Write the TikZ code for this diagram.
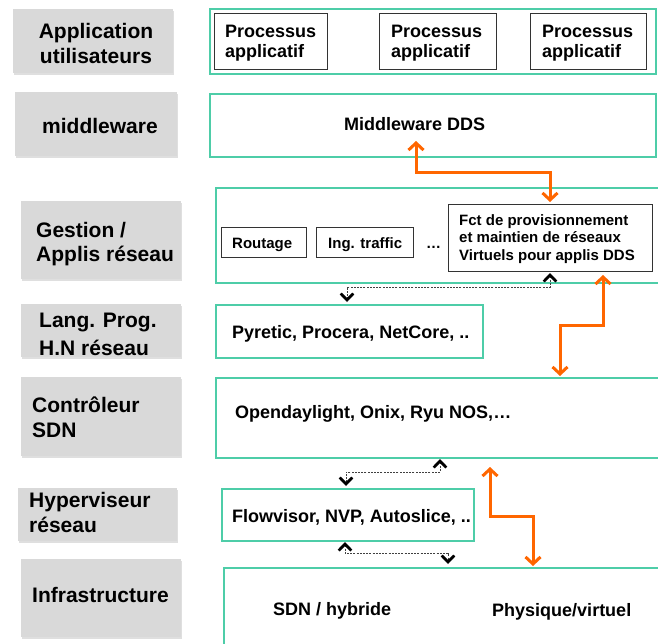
\documentclass[tikz,border=0pt]{standalone}
\usepackage{fontspec}
\setmainfont{Liberation Sans}
\usetikzlibrary{arrows.meta,shadows}
\definecolor{teal1}{RGB}{78,205,168}
\definecolor{org}{RGB}{255,102,0}
\definecolor{lblgray}{RGB}{217,217,217}
\begin{document}
\begin{tikzpicture}[x=1pt,y=-1pt,
  gbox/.style={draw=none,fill=lblgray,anchor=north west,inner sep=0pt,
    drop shadow={shadow xshift=0.6pt,shadow yshift=-1.8pt,opacity=0.25}},
  layerbox/.style={draw=teal1,line width=1.5pt,fill=white,anchor=north west,inner sep=0pt,
    drop shadow={shadow xshift=0.5pt,shadow yshift=-1.5pt,opacity=0.08}},
  subbox/.style={draw=black!80,line width=1.1pt,fill=white,anchor=north west,inner sep=0pt},
  lt/.style={font=\bfseries\fontsize{21}{25}\selectfont,align=left,anchor=base west,inner sep=0pt},
  pt/.style={font=\bfseries\fontsize{18}{20}\selectfont,align=left,anchor=base west,inner sep=0pt},
  st/.style={font=\bfseries\fontsize{15}{17.5}\selectfont,align=left,anchor=base west,inner sep=0pt},
  orarrow/.style={draw=org,line width=3pt,{Straight Barb[length=7pt,width=15pt]}-{Straight Barb[length=7pt,width=15pt]}},
  dasharrow/.style={draw=black!75,line width=0.8pt,dash pattern=on 2pt off 1.2pt,
    {Straight Barb[length=6.5pt,width=12.5pt,line width=2.8pt,color=black]}-{Straight Barb[length=6.5pt,width=12.5pt,line width=2.8pt,color=black]}}
]
\useasboundingbox (0,0) rectangle (658,643);
\clip (0,0) rectangle (658,643);
\fill[white] (0,0) rectangle (658,643);

% left grey labels
\node[gbox,minimum width=160pt,minimum height=64pt] (g1) at (13,9) {};
\node[gbox,minimum width=162pt,minimum height=64pt] (g2) at (15,92) {};
\node[gbox,minimum width=160pt,minimum height=78pt] (g3) at (21,201) {};
\node[gbox,minimum width=160pt,minimum height=53pt] (g4) at (21,304) {};
\node[gbox,minimum width=160pt,minimum height=79pt] (g5) at (21,377) {};
\node[gbox,minimum width=159pt,minimum height=53pt] (g6) at (18,488) {};
\node[gbox,minimum width=160pt,minimum height=78pt] (g7) at (21,559) {};

\node[lt,align=center,anchor=base] (t1) at (96,63) {Application\\utilisateurs};
\node[lt] (t2) at (42,133) {middleware};
\node[lt] (t3) at (36,261) {Gestion /\\[-1pt]Applis réseau};
\node[lt] (t4) at (39,355) {Lang. Prog.\\[3pt]H.N réseau};
\node[lt] (t5) at (32,437) {Contrôleur\\SDN};
\node[lt] (t6) at (29,532) {Hyperviseur\\réseau};
\node[lt] (t7) at (32,602) {Infrastructure};

% right layer boxes
\node[layerbox,minimum width=446pt,minimum height=65pt] (L1) at (209,8) {};
\node[layerbox,minimum width=446pt,minimum height=63pt] (L2) at (209,93) {};
\node[layerbox,minimum width=470pt,minimum height=95pt] (L3) at (215,187) {};
\node[layerbox,minimum width=267pt,minimum height=53pt] (L4) at (215,304) {};
\node[layerbox,minimum width=470pt,minimum height=80pt] (L5) at (215,377) {};
\node[layerbox,minimum width=252pt,minimum height=52pt] (L6) at (221,488) {};
\node[layerbox,minimum width=470pt,minimum height=110pt] (L7) at (223,567) {};

% application processes
\node[subbox,minimum width=113pt,minimum height=56pt] (p1) at (214,13) {};
\node[subbox,minimum width=117pt,minimum height=56pt] (p2) at (379,13) {};
\node[subbox,minimum width=116pt,minimum height=56pt] (p3) at (530,13) {};
\node[pt] (pt1) at (225,57) {Processus\\applicatif};
\node[pt] (pt2) at (391,57) {Processus\\applicatif};
\node[pt] (pt3) at (542,57) {Processus\\applicatif};

% middleware
\node[pt] (mw) at (344,130) {Middleware DDS};

% gestion
\node[subbox,minimum width=85pt,minimum height=30pt] (rout) at (221,227) {};
\node[subbox,minimum width=97pt,minimum height=30pt] (ing) at (316,227) {};
\node[subbox,minimum width=204pt,minimum height=67pt] (fct) at (448,204) {};
\node[st] (routt) at (232,248) {Routage};
\node[st] (ingt) at (328,248) {Ing. traffic};
\node[st] (dots) at (426,248) {…};
\node[st] (fctt) at (459,260) {Fct de provisionnement\\et maintien de réseaux\\Virtuels pour applis DDS};

% other layer texts
\node[pt] (lang) at (232,338) {Pyretic, Procera, NetCore, ..};
\node[pt] (ctrl) at (235,418) {Opendaylight, Onix, Ryu NOS,…};
\node[pt] (hyp) at (232,522) {Flowvisor, NVP, Autoslice, ..};
\node[pt] (sdn) at (273,615) {SDN / hybride};
\node[pt] (phy) at (492,616) {Physique/virtuel};

% connector end points
\coordinate (o1a) at (416,141);
\coordinate (o1b) at (550,202);
\coordinate (o2a) at (603,275);
\coordinate (o2b) at (560,376);
\coordinate (o3a) at (490,467);
\coordinate (o3b) at (533,566);
\coordinate (d1a) at (550,273);
\coordinate (d1b) at (347,302);
\coordinate (d2a) at (440,459);
\coordinate (d2b) at (346,486);
\coordinate (d3a) at (345,542);
\coordinate (d3b) at (448,564);

% orange arrows
\draw[orarrow] (o1a) -- (o1a |- 0,172) -- (o1b |- 0,172) -- (o1b);
\draw[orarrow] (o2a) -- (o2a |- 0,325) -- (o2b |- 0,325) -- (o2b);
\draw[orarrow] (o3a) -- (o3a |- 0,516) -- (o3b |- 0,516) -- (o3b);

% dashed arrows
\draw[dasharrow] (d1a) -- (d1a |- 0,287) -- (d1b |- 0,287) -- (d1b);
\draw[dasharrow] (d2a) -- (d2a |- 0,472) -- (d2b |- 0,472) -- (d2b);
\draw[dasharrow] (d3a) -- (d3a |- 0,553) -- (d3b |- 0,553) -- (d3b);
\end{tikzpicture}
\end{document}
